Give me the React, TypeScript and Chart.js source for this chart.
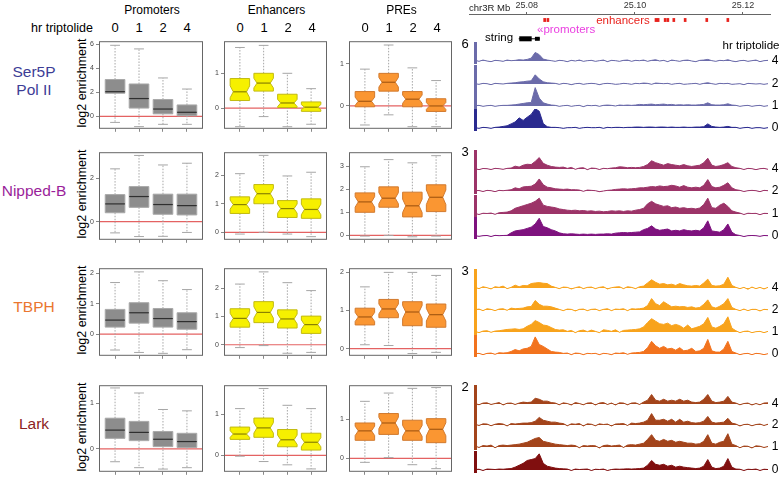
import React, { useEffect, useRef } from 'react';
import { Chart, registerables } from 'chart.js';
Chart.register(...registerables);

const FONT = '"Liberation Sans", Arial, Helvetica, sans-serif';

const TIMEPOINTS = ['0', '1', '2', '4'];
const REGIONS = ['Promoters', 'Enhancers', 'PREs'];
const PROTEINS = ['Ser5P\nPol II', 'Nipped-B', 'TBPH', 'Lark'];
const PROTEIN_COLORS = ['#3d3d96', '#9a1e9a', '#ea7630', '#8c2323'];
const TRACK_ORDER = ['4', '2', '1', '0'];

// box stats per time point: [lower whisker, Q1, median, Q3, upper whisker]
const SER5P_PROMOTERS = [[-0.5, 1.92, 2.05, 3.06, 5.9], [-0.85, 0.69, 1.48, 2.69, 5.6], [-0.66, 0.21, 0.61, 1.4, 3.19], [-0.66, 0.05, 0.34, 0.95, 2.27]];
const SER5P_ENHANCERS = [[-0.53, 0.22, 0.47, 0.85, 1.74], [-0.24, 0.49, 0.72, 1.0, 1.8], [-0.53, 0.02, 0.15, 0.4, 1.0], [-0.46, -0.09, 0.03, 0.18, 0.56]];
const SER5P_PRES = [[-0.45, -0.02, 0.11, 0.34, 0.87], [-0.21, 0.35, 0.56, 0.77, 1.44], [-0.49, -0.02, 0.16, 0.34, 0.9], [-0.49, -0.13, 0.0, 0.17, 0.6]];
const NIPB_PROMOTERS = [[-0.52, 0.41, 0.82, 1.25, 2.44], [-0.69, 0.66, 1.16, 1.62, 3.06], [-0.68, 0.34, 0.79, 1.27, 2.62], [-0.5, 0.31, 0.74, 1.27, 2.7]];
const NIPB_ENHANCERS = [[-0.06, 0.66, 0.97, 1.24, 2.05], [0.0, 1.0, 1.35, 1.67, 2.69], [-0.06, 0.52, 0.83, 1.11, 1.97], [-0.15, 0.49, 0.8, 1.17, 2.1]];
const NIPB_PRES = [[-0.03, 1.0, 1.45, 1.84, 2.97], [0.0, 1.22, 1.61, 2.1, 3.28], [-0.06, 0.8, 1.28, 1.87, 3.14], [-0.03, 1.03, 1.65, 2.19, 3.45]];
const TBPH_PROMOTERS = [[-0.52, 0.23, 0.46, 0.81, 1.69], [-0.6, 0.36, 0.7, 1.03, 2.04], [-0.63, 0.23, 0.51, 0.84, 1.75], [-0.51, 0.16, 0.41, 0.7, 1.46]];
const TBPH_ENHANCERS = [[-0.1, 0.62, 0.93, 1.27, 2.14], [-0.03, 0.78, 1.14, 1.52, 2.57], [-0.3, 0.59, 0.91, 1.23, 2.19], [-0.27, 0.4, 0.71, 1.01, 1.91]];
const TBPH_PRES = [[0.1, 0.62, 0.83, 1.06, 1.62], [0.08, 0.81, 1.04, 1.29, 2.0], [-0.13, 0.6, 0.96, 1.23, 2.0], [-0.1, 0.56, 0.89, 1.17, 1.92]];
const LARK_PROMOTERS = [[-0.28, 0.23, 0.41, 0.67, 1.33], [-0.41, 0.18, 0.36, 0.6, 1.22], [-0.44, 0.05, 0.21, 0.38, 0.86], [-0.41, 0.03, 0.16, 0.34, 0.83]];
const LARK_ENHANCERS = [[-0.02, 0.39, 0.52, 0.69, 1.14], [-0.15, 0.44, 0.67, 0.91, 1.63], [-0.23, 0.21, 0.38, 0.63, 1.22], [-0.33, 0.13, 0.32, 0.54, 1.14]];
const LARK_PRES = [[-0.1, 0.46, 0.7, 0.9, 1.45], [0.02, 0.61, 0.9, 1.14, 1.66], [-0.16, 0.46, 0.7, 0.97, 1.78], [-0.26, 0.4, 0.74, 1.01, 1.8]];

// y tick labels per panel
const SER5P_TICKS = [[0, 2, 4, 6], [0, 1], [0, 1]];
const NIPB_TICKS = [[0, 2], [0, 1, 2], [0, 1, 2, 3]];
const TBPH_TICKS = [[0, 1, 2], [0, 1, 2], [0, 1, 2]];
const LARK_TICKS = [[0, 1], [0, 1], [0, 1]];

// y axis ranges per panel
const SER5P_RANGES = [[-1.03, 6.24], [-0.59, 1.92], [-0.54, 1.53]];
const NIPB_RANGES = [[-0.84, 3.21], [-0.26, 2.8], [-0.19, 3.6]];
const TBPH_RANGES = [[-0.71, 2.16], [-0.39, 2.7], [-0.19, 2.11]];
const LARK_RANGES = [[-0.5, 1.39], [-0.4, 1.71], [-0.34, 1.86]];

// genome browser
const AXIS_TICKS_MB = [25.08, 25.1, 25.12];
const ENHANCER_POSITIONS = [25.0833, 25.0839, 25.1039, 25.1043, 25.1056, 25.1061, 25.1072, 25.1093, 25.1133, 25.1172];
const GENE_SPAN = [25.0785, 25.0824];
const GENE_EXON_A = [25.0786, 25.0809];
const GENE_EXON_B = [25.0815, 25.0824];
const TRACK_SCALE_MAX = [6, 3, 3, 2];

const SER5P_4 = [0.2,-0.1,0.3,0,-0.2,0.2,0.1,-0.1,0.3,0.1, 0.2,0.4,0.3,0.5,0.9,2.7,2.0,0.6,0.3,0.1, -0.1,0.2,0.1,-0.2,0.2,0,0.3,-0.1,0.1,0.2, -0.1,0.1,0.3,-0.2,0.2,0.1,-0.1,0.2,0.3,-0.1, 0.2,0.1,0.3,-0.1,0.2,0.4,0,0.2,-0.2,0.3, 0.1,-0.1,0.2,0.3,0,-0.2,0.2,0.3,0.5,0.1, -0.1,0.2,0.1,0.4,0,-0.2,0.1,0.2,-0.1,0.1, 0.3,-0.2,0.1,0.2];
const SER5P_2 = [0.1,-0.1,0.2,0.1,-0.2,0.2,0.1,0,0.2,0.3, 0.4,0.6,0.7,0.9,1.0,2.9,1.6,0.7,0.4,0.3, 0.2,-0.1,0.2,0.1,-0.2,0.1,0.2,-0.1,0.1,0.2, 0.1,-0.2,0.1,0.2,0.1,-0.1,0,0.2,0.1,-0.1, 0.2,0.1,0.3,0.2,-0.1,0.3,0.2,0.1,0.2,-0.1, 0.1,0.2,-0.1,0,0.1,0.2,-0.1,0.2,0.4,0.1, -0.1,0.2,0.1,0.2,-0.1,0,0.1,-0.2,0.2,0.1, 0,0.1,-0.1,0.1];
const SER5P_1 = [0.1,0.2,-0.1,0.1,0.2,-0.1,0.1,0.2,0.2,0.3, 0.4,0.6,0.8,1.0,1.1,5.8,2.5,1.0,0.6,0.3, 0.2,-0.1,0.1,0.2,-0.1,0.1,0.2,-0.2,0.2,0.1, 0.2,-0.1,0.2,0.3,0.2,0,0.3,0.2,0.3,0.2, 0.3,0.5,0.4,0.5,0.6,0.4,0.5,0.6,0.4,0.5, 0.3,0.4,0.3,0.4,0.3,0.3,0.4,0.5,1.0,0.4, 0.3,0.3,0.4,0.7,0.3,0.2,-0.1,0.1,0.2,-0.1, 0.1,0.2,-0.1,0.1];
const SER5P_0 = [0.1,-0.1,0.2,0.1,-0.1,0.2,0.3,0.5,0.7,1.3, 1.9,3.2,2.4,3.4,4.3,6.1,5.3,1.4,0.4,0.2, 0.2,0.1,-0.1,0.1,0.1,0.2,-0.1,0.1,0.2,0.1, 0.1,0.2,-0.1,0.2,0.1,0.2,0.2,0.1,0.2,0.2, 0.3,0.3,0.2,0.3,0.3,0.2,0.3,0.3,0.2,0.3, 0.2,0.2,0.3,0.2,0.2,0.3,0.3,0.4,1.3,0.5, 0.3,0.2,0.3,0.5,0.2,0.2,-0.1,0.1,0.2,-0.1, 0.1,0.1,-0.1,0.1];

const NIPB_4 = [0.05,-0.1,0.08,0.05,-0.08,0.1,0.05,-0.05,0.1,0.15, 0.45,0.3,0.6,0.75,0.7,1.2,1.8,0.9,0.6,0.4, 0.3,0.25,0.3,0.1,0.25,-0.05,0.15,0.2,-0.1,0.15, 0.1,-0.08,0.1,0.05,0.15,0.2,0.35,0.3,0.2,0.25, 0.2,0.25,0.4,0.7,1.3,1.0,0.8,0.6,0.85,0.7, 0.6,0.5,0.7,0.5,0.4,0.5,0.6,1.0,1.7,0.6, 0.4,0.5,0.7,1.0,0.4,0.2,0.1,-0.08,0.1,0.05, -0.1,0.05,0.1,-0.05];
const NIPB_2 = [0.05,0.08,-0.08,0.1,0.05,-0.1,0.1,0.05,0.12,0.2, 0.5,0.35,0.65,0.7,0.75,1.1,1.9,1.0,0.6,0.5, 0.35,0.3,0.25,0.3,0.2,0.2,0.15,-0.05,0.15,0.1, 0.05,-0.1,0,0.1,0.15,0.25,0.3,0.35,0.3,0.35, 0.4,0.5,0.5,0.6,0.7,0.65,0.8,0.7,0.75,0.9, 0.8,0.6,0.85,0.6,0.5,0.6,0.5,0.9,1.8,0.7, 0.5,0.6,0.9,1.3,0.5,0.2,0.1,-0.08,0.05,0.1, 0.05,-0.1,0.1,0.05];
const NIPB_1 = [0.1,-0.08,0.12,0.08,0.15,-0.05,0.2,0.25,0.3,0.5, 0.9,1.1,1.3,1.5,1.7,2.0,2.5,1.4,1.2,1.1, 1.0,0.8,0.7,0.6,0.55,0.6,0.5,0.55,0.45,0.5, 0.4,0.45,0.35,0.4,0.5,0.45,0.5,0.4,0.5,0.45, 0.6,0.7,0.9,1.6,2.0,1.6,1.4,1.2,1.3,1.0, 1.1,0.9,1.0,0.85,0.9,0.8,0.95,1.5,2.5,1.0, 0.9,1.4,1.7,1.2,0.5,0.3,0.15,-0.08,0.12,0.08, 0.1,-0.1,0.1,0.08];
const NIPB_0 = [0.05,-0.05,0.05,0.08,-0.08,0.1,0.05,0.08,0.1,0.5, 0.8,0.9,1.0,1.2,1.4,1.9,2.8,1.5,1.3,1.0, 0.8,0.5,0.35,0.3,0.35,0.3,0.25,0.3,0.25,0.3, 0.25,0.3,0.3,0.35,0.3,0.45,0.5,0.55,0.5,0.55, 0.6,0.65,1.0,1.2,1.6,1.1,0.9,1.0,1.1,0.8, 0.9,0.8,1.0,0.85,0.8,0.9,0.8,1.3,2.4,0.8, 0.7,0.6,1.0,1.9,0.6,0.2,0.08,-0.08,0.05,0.08, 0.05,-0.05,0.08,0.05];

const TBPH_4 = [0.1,-0.1,0.2,0.05,-0.15,0.2,0.1,0.3,-0.1,0.1, 0.45,0.2,0.4,0.35,0.7,0.8,0.85,0.75,0.7,0.3, 0.1,-0.1,0.15,0.1,-0.15,0.05,0.2,-0.1,0.1,0.15, -0.1,0.1,0.2,-0.15,0.05,0.15,0.2,-0.1,0.2,0.1, -0.1,0.2,0.3,0.8,1.3,0.9,0.6,0.7,0.5,0.6, 0.4,0.7,0.5,0.35,0.3,0.4,0.3,0.8,1.4,0.4, 0.3,0.35,0.6,1.7,0.4,0.1,-0.1,0.1,-0.2,0.15, -0.1,0.1,-0.15,0.1];
const TBPH_2 = [0.05,0.15,-0.1,0.2,0.1,-0.1,0.15,0.2,-0.05,0.3, 0.2,0.25,0.3,0.5,0.55,1.5,0.9,0.6,0.6,0.5, 0.3,0.1,-0.1,0.15,0.1,-0.15,0.1,0.15,-0.1,0.1, 0.15,-0.1,0.1,0.2,-0.1,0.15,0.1,0.2,-0.1,0.2, 0.15,0.2,0.3,0.7,1.8,1.0,0.7,1.3,0.9,0.5, 0.6,0.5,0.55,0.4,0.5,0.3,0.4,0.9,1.6,0.5, 0.3,0.6,1.0,1.8,0.4,0.1,-0.1,0.15,-0.1,0.1, 0.1,-0.15,0.1,0.05];
const TBPH_1 = [0.1,-0.1,0.15,0.2,-0.05,0.15,0.2,0.3,0.4,0.45, 0.5,0.4,0.5,0.9,1.2,1.8,1.5,1.1,1.0,0.7, 0.4,0.3,0.35,0.1,0.25,-0.1,0.2,0.3,0.05,0.3, 0.1,-0.1,0.35,0.25,0.1,0.35,-0.05,0.25,0.3,0.35, 0.4,0.5,0.8,1.5,2.1,1.7,1.3,1.2,1.4,1.0, 1.2,1.0,0.6,1.1,0.5,0.7,0.9,1.3,2.3,0.8, 0.6,0.9,1.3,2.4,0.6,0.2,-0.1,0.1,0.15,-0.1, 0.05,0.1,-0.1,0.1];
const TBPH_0 = [0.05,0.1,-0.1,0.1,0.15,-0.05,0.2,0.15,0.2,0.4, 0.7,0.5,0.8,0.9,1.2,2.7,1.5,1.2,0.8,0.4, 0.3,0.25,0.1,0.15,-0.1,0.15,0.1,-0.1,0.1,0.05, 0.1,-0.1,0.1,0.05,-0.1,0.15,0.1,0.2,-0.05,0.15, 0.2,0.25,0.4,1.0,2.0,1.3,0.9,1.2,0.8,0.9, 0.6,1.0,0.5,0.6,0.9,0.4,0.5,0.9,2.3,0.5, 0.3,0.3,0.8,2.0,0.4,0.15,-0.1,0.05,0.1,-0.1, 0.1,0.05,-0.1,0.05];

const LARK_4 = [0.05,-0.08,0.1,0.12,-0.05,0.05,0.15,-0.1,0.08,0.1, -0.05,0.1,0.2,0.15,0.2,0.6,0.5,0.3,0.3,0.15, 0.1,-0.08,0.12,0.05,-0.1,0.15,0.05,-0.08,0.1,0.12, -0.1,0.1,0.15,-0.05,0.1,-0.1,0.12,0.1,-0.08,0.1, 0.12,-0.05,0.2,0.4,1.0,0.4,0.3,0.5,0.3,0.4, 0.3,0.5,0.3,0.4,0.2,0.15,0.2,0.5,1.0,0.3, 0.15,0.2,0.3,0.8,0.2,0.1,-0.08,0.05,0.1,-0.1, 0.05,-0.08,0.1,0.12];
const LARK_2 = [0.08,-0.05,0.12,0.1,-0.08,0.08,0.15,0.1,-0.1,0.15, 0.1,0.15,0.2,0.2,0.25,0.4,0.8,0.5,0.4,0.3, 0.3,0.2,0.15,-0.08,0.12,0.08,0.15,-0.1,0.12,0.08, -0.08,0.12,0.05,0.1,-0.1,0.1,0.12,0.15,-0.05,0.2, 0.15,0.2,0.3,0.5,1.2,0.5,0.5,0.6,0.4,0.6, 0.3,0.6,0.3,0.4,0.25,0.2,0.25,0.4,0.9,0.3, 0.2,0.25,0.3,0.7,0.2,0.1,-0.1,0.05,0.08,-0.08, 0.05,0.1,-0.05,0.08];
const LARK_1 = [0.1,-0.05,0.15,0.1,0.2,-0.08,0.15,0.2,0.15,0.2, 0.25,0.3,0.4,0.5,0.7,0.9,1.0,0.6,0.5,0.4, 0.3,0.25,0.2,0.15,0.2,0.15,-0.08,0.15,0.1,0.15, 0.12,-0.1,0.15,0.2,0.1,0.15,0.2,-0.05,0.2,0.25, 0.2,0.3,0.4,0.8,1.3,0.7,0.6,0.8,0.6,0.7, 0.5,0.6,0.5,0.4,0.4,0.3,0.35,0.6,1.3,0.4, 0.3,0.5,0.6,1.4,0.3,0.15,-0.08,0.1,0.08,-0.1, 0.12,0.08,-0.05,0.05];
const LARK_0 = [0.05,0.08,-0.05,0.1,0.08,0.05,0.1,0.08,0.12,0.15, 0.3,0.5,0.7,1.0,1.1,1.2,1.7,0.7,0.4,0.3, 0.2,0.15,0.12,0.1,-0.05,0.1,0.05,0.08,0.1,-0.05, 0.08,0.05,0.1,-0.05,0.05,0.1,0.08,0.1,0.12,0.1, 0.12,0.15,0.2,0.5,1.0,0.6,0.5,0.6,0.4,0.5, 0.3,0.4,0.3,0.25,0.2,0.15,0.2,0.4,1.1,0.3, 0.15,0.2,0.4,1.2,0.3,0.1,0.08,-0.05,0.08,0.05, 0.1,-0.05,0.08,0.05];

// ---- tables built from the arrays above ----
const BOX_TABLE = [
  [SER5P_PROMOTERS, SER5P_ENHANCERS, SER5P_PRES],
  [NIPB_PROMOTERS, NIPB_ENHANCERS, NIPB_PRES],
  [TBPH_PROMOTERS, TBPH_ENHANCERS, TBPH_PRES],
  [LARK_PROMOTERS, LARK_ENHANCERS, LARK_PRES],
];
const TICK_TABLE = [SER5P_TICKS, NIPB_TICKS, TBPH_TICKS, LARK_TICKS];
const RANGE_TABLE = [SER5P_RANGES, NIPB_RANGES, TBPH_RANGES, LARK_RANGES];
const TRACK_TABLE = [
  [SER5P_4, SER5P_2, SER5P_1, SER5P_0],
  [NIPB_4, NIPB_2, NIPB_1, NIPB_0],
  [TBPH_4, TBPH_2, TBPH_1, TBPH_0],
  [LARK_4, LARK_2, LARK_1, LARK_0],
];

// ---- layout / style ----
const COLS = [[99, 104], [224, 103], [349, 103]];
const ROWS = [[37, 92], [148, 92], [264, 92], [381, 91]];
const PAL = [
  { fill: '#8d8d8d', stroke: '#a9a9a9', median: '#2f2f2f', notch: false },
  { fill: '#f6f000', stroke: '#c2ba10', median: '#8a8200', notch: true },
  { fill: '#fa9632', stroke: '#d27a2e', median: '#a85a12', notch: true },
];
const TRACK_BASELINES = [[61, 83.5, 105.5, 128], [168.5, 191, 213.5, 236], [288, 310, 331.5, 353.5], [403.5, 425, 447, 469.5]];
const TRACK_COLORS = [['#6b6baa', '#2a2a8f'], ['#9c3468', '#7e127e'], ['#f8a31c', '#f2731e'], ['#a3441b', '#800f0f']];
const TRACK_START = 25.0704;
const TRACK_END = 25.1246;
const HEADER_MIN = 25.0693;
const HEADER_MAX = 25.125;

const boxPlugin = {
  id: 'boxes',
  beforeDatasetsDraw(chart: any) {
    const { ctx, chartArea: a, scales } = chart;
    const y0 = scales.y.getPixelForValue(0);
    ctx.save();
    ctx.strokeStyle = '#e46262';
    ctx.lineWidth = 1.2;
    ctx.beginPath();
    ctx.moveTo(a.left, y0);
    ctx.lineTo(a.right, y0);
    ctx.stroke();
    ctx.restore();
  },
  afterDatasetsDraw(chart: any, _a: any, opts: any) {
    const { ctx, chartArea: a, scales } = chart;
    const x = scales.x;
    const y = scales.y;
    const pts = chart.data.datasets[0].data;
    ctx.save();
    pts.forEach((p: any) => {
      const [lo, q1, med, q3, hi] = p.stats;
      const cx = x.getPixelForValue(p.x);
      const hw = (x.getPixelForValue(p.x + 0.41) - x.getPixelForValue(p.x - 0.41)) / 2;
      const yLo = y.getPixelForValue(lo);
      const yQ1 = y.getPixelForValue(q1);
      const yMed = y.getPixelForValue(med);
      const yQ3 = y.getPixelForValue(q3);
      const yHi = y.getPixelForValue(hi);
      ctx.strokeStyle = '#a6a6a6';
      ctx.lineWidth = 1;
      ctx.setLineDash([1.5, 1.5]);
      ctx.beginPath();
      ctx.moveTo(cx, yQ3); ctx.lineTo(cx, yHi);
      ctx.moveTo(cx, yQ1); ctx.lineTo(cx, yLo);
      ctx.stroke();
      ctx.setLineDash([]);
      const cw = hw * 0.5;
      ctx.beginPath();
      ctx.moveTo(cx - cw, yHi); ctx.lineTo(cx + cw, yHi);
      ctx.moveTo(cx - cw, yLo); ctx.lineTo(cx + cw, yLo);
      ctx.stroke();
      const ins = opts.notch ? hw * 0.32 : 0;
      ctx.beginPath();
      if (opts.notch) {
        const n = (yQ1 - yQ3) * 0.27;
        const nt = Math.max(yQ3, yMed - n);
        const nb = Math.min(yQ1, yMed + n);
        ctx.moveTo(cx - hw, yQ3); ctx.lineTo(cx + hw, yQ3); ctx.lineTo(cx + hw, nt);
        ctx.lineTo(cx + hw - ins, yMed); ctx.lineTo(cx + hw, nb); ctx.lineTo(cx + hw, yQ1);
        ctx.lineTo(cx - hw, yQ1); ctx.lineTo(cx - hw, nb); ctx.lineTo(cx - hw + ins, yMed);
        ctx.lineTo(cx - hw, nt); ctx.closePath();
      } else {
        ctx.rect(cx - hw, yQ3, 2 * hw, yQ1 - yQ3);
      }
      ctx.fillStyle = opts.fill;
      ctx.fill();
      ctx.strokeStyle = opts.stroke;
      ctx.stroke();
      ctx.strokeStyle = opts.median;
      ctx.lineWidth = 1.2;
      ctx.beginPath();
      ctx.moveTo(cx - hw + ins, yMed);
      ctx.lineTo(cx + hw - ins, yMed);
      ctx.stroke();
    });
    ctx.strokeStyle = '#666';
    ctx.lineWidth = 1;
    ctx.strokeRect(a.left + 0.5, a.top + 0.5, a.right - a.left - 1, a.bottom - a.top - 1);
    ctx.restore();
  },
};

const PADL = 22, PADT = 2, PADR = 2, PADB = 6;

function BoxPanel(props: { left: number; top: number; width: number; height: number; boxes: number[][]; ticks: number[]; range: number[]; pal: any }) {
  const ref = useRef<HTMLCanvasElement>(null);
  const { left, top, width, height, boxes, ticks, range, pal } = props;
  useEffect(() => {
    const chart = new Chart(ref.current as HTMLCanvasElement, {
      type: 'scatter',
      data: { datasets: [{ data: boxes.map((b, i) => ({ x: i, y: b[2], stats: b })) as any, pointRadius: 0 }] },
      options: {
        animation: false,
        responsive: false,
        events: [],
        layout: { padding: { left: 0, top: PADT, right: PADR, bottom: 0 } },
        plugins: { legend: { display: false }, tooltip: { enabled: false }, boxes: pal } as any,
        scales: {
          x: {
            type: 'linear', min: -0.67, max: 3.67,
            afterBuildTicks: (s: any) => { s.ticks = TIMEPOINTS.map((_, i) => ({ value: i })); },
            ticks: { display: false },
            grid: { display: true, drawOnChartArea: false, drawTicks: true, tickLength: 3, color: '#888' },
            border: { display: false },
            afterFit: (s: any) => { s.height = PADB; },
          },
          y: {
            type: 'linear', min: range[0], max: range[1],
            afterBuildTicks: (s: any) => { s.ticks = ticks.map((v) => ({ value: v })); },
            ticks: { font: { size: 7, family: FONT }, color: '#444', padding: 2 },
            grid: { display: true, drawOnChartArea: false, drawTicks: true, tickLength: 3, color: '#888' },
            border: { display: false },
            afterFit: (s: any) => { s.width = PADL; },
          },
        },
      } as any,
      plugins: [boxPlugin as any],
    });
    return () => chart.destroy();
  }, []);
  return (
    <canvas
      ref={ref}
      width={width + PADL + PADR}
      height={height + PADT + PADB}
      style={{ position: 'absolute', left: left - PADL, top: top - PADT }}
    />
  );
}

function Track(props: { top: number; values: number[]; color: string; yMax: number }) {
  const ref = useRef<HTMLCanvasElement>(null);
  const { top, values, color, yMax } = props;
  useEffect(() => {
    const chart = new Chart(ref.current as HTMLCanvasElement, {
      type: 'line',
      data: {
        datasets: [{
          data: values.map((v, i) => ({ x: TRACK_START + ((TRACK_END - TRACK_START) * i) / (values.length - 1), y: v })),
          borderColor: color, backgroundColor: color, borderWidth: 1, pointRadius: 0, fill: 'origin', tension: 0,
        }],
      },
      options: {
        animation: false,
        responsive: false,
        events: [],
        layout: { padding: { left: 35, right: 13, top: 0, bottom: 0 } },
        plugins: { legend: { display: false }, tooltip: { enabled: false } },
        scales: {
          x: { type: 'linear', display: false, min: TRACK_START, max: TRACK_END },
          y: {
            type: 'linear', min: (-yMax * 3) / 19, max: yMax,
            ticks: { display: false }, grid: { display: false },
            border: { display: true, color, width: 3 },
            afterFit: (s: any) => { s.width = 0; },
          },
        },
      } as any,
    });
    return () => chart.destroy();
  }, []);
  return <canvas ref={ref} width={341} height={22} style={{ position: 'absolute', left: 440, top: Math.round(top) }} />;
}

function Header() {
  const ref = useRef<HTMLCanvasElement>(null);
  useEffect(() => {
    const chart = new Chart(ref.current as HTMLCanvasElement, {
      type: 'bar',
      data: {
        datasets: [
          { type: 'bar', data: ENHANCER_POSITIONS.map((p) => ({ x: p, y: [3.05, 3.45] })) as any, backgroundColor: '#e8231e', barThickness: 2 },
          { type: 'line', data: GENE_SPAN.map((p) => ({ x: p, y: 0.9 })), borderColor: '#000', borderWidth: 1, pointRadius: 0 },
          { type: 'line', data: GENE_EXON_A.map((p) => ({ x: p, y: 0.9 })), borderColor: '#000', borderWidth: 5, pointRadius: 0 },
          { type: 'line', data: GENE_EXON_B.map((p) => ({ x: p, y: 0.9 })), borderColor: '#000', borderWidth: 4, pointRadius: 0 },
        ] as any,
      },
      options: {
        animation: false,
        responsive: false,
        events: [],
        layout: { padding: { left: 29, right: 11, top: 0, bottom: 0 } },
        plugins: { legend: { display: false }, tooltip: { enabled: false } },
        scales: {
          x: {
            type: 'linear', position: 'top', min: HEADER_MIN, max: HEADER_MAX, offset: false,
            afterBuildTicks: (s: any) => { s.ticks = AXIS_TICKS_MB.map((v) => ({ value: v })); },
            ticks: { font: { size: 9, family: FONT }, color: '#333', padding: 1, maxRotation: 0, callback: (v: any) => Number(v).toFixed(2) },
            grid: { display: true, drawOnChartArea: false, drawTicks: true, tickLength: 2, color: '#666', offset: false },
            border: { display: true, color: '#666', width: 1 },
            afterFit: (s: any) => { s.height = 14; },
          },
          y: { type: 'linear', display: false, min: 0, max: 4 },
        },
      } as any,
    });
    return () => chart.destroy();
  }, []);
  return <canvas ref={ref} width={341} height={46} style={{ position: 'absolute', left: 440, top: 0 }} />;
}

function Txt(props: { x: number; y: number; size: number; color?: string; children: any; align?: 'center' | 'left'; rotate?: boolean }) {
  const { x, y, size, color = '#000', children, align = 'center', rotate } = props;
  const tx = align === 'center' ? '-50%' : '0';
  return (
    <div
      style={{
        position: 'absolute', left: x, top: y, fontSize: size, color, lineHeight: 1.15,
        whiteSpace: 'pre', textAlign: 'center', fontFamily: FONT,
        transform: `translate(${tx}, -50%)${rotate ? ' rotate(-90deg)' : ''}`,
      }}
    >
      {children}
    </div>
  );
}

export default function App() {
  const items: any[] = [];
  REGIONS.forEach((r, c) => {
    items.push(<Txt key={'reg' + c} x={COLS[c][0] + COLS[c][1] / 2 + 1} y={11} size={12}>{r}</Txt>);
    TIMEPOINTS.forEach((t, i) => {
      items.push(<Txt key={'tp' + c + i} x={COLS[c][0] + 16 + 24 * i} y={28} size={13}>{t}</Txt>);
    });
  });
  items.push(<Txt key="hrt" x={62} y={28} size={12.5}>hr triptolide</Txt>);
  PROTEINS.forEach((p, r) => {
    const cy = ROWS[r][0] + ROWS[r][1] / 2;
    items.push(<Txt key={'prot' + r} x={34} y={r === 0 ? 81 : cy - 3} size={15.5} color={PROTEIN_COLORS[r]}>{p}</Txt>);
    items.push(<Txt key={'yl' + r} x={82} y={cy} size={12.5} rotate>log2 enrichment</Txt>);
    REGIONS.forEach((_, c) => {
      items.push(
        <BoxPanel
          key={'bp' + r + c}
          left={COLS[c][0]}
          top={ROWS[r][0]}
          width={COLS[c][1]}
          height={ROWS[r][1]}
          boxes={BOX_TABLE[r][c]}
          ticks={TICK_TABLE[r][c]}
          range={RANGE_TABLE[r][c]}
          pal={PAL[c]}
        />
      );
    });
    TRACK_ORDER.forEach((t, k) => {
      const base = TRACK_BASELINES[r][k];
      items.push(
        <Track key={'tr' + r + k} top={base - 19} values={TRACK_TABLE[r][k]} color={k === 3 ? TRACK_COLORS[r][1] : TRACK_COLORS[r][0]} yMax={TRACK_SCALE_MAX[r]} />
      );
      items.push(<Txt key={'tl' + r + k} x={775} y={base} size={12}>{t}</Txt>);
    });
    items.push(<Txt key={'tm' + r} x={465} y={TRACK_BASELINES[r][0] - 17} size={13}>{String(TRACK_SCALE_MAX[r])}</Txt>);
  });
  return (
    <div style={{ position: 'absolute', left: 0, top: 0, width: 781, height: 477, background: '#fff', overflow: 'hidden', fontFamily: FONT }}>
      <Header />
      <Txt x={469} y={8} size={9.5} align="left" color="#222">chr3R Mb</Txt>
      <Txt x={623} y={21} size={11.5} color="#e8231e">enhancers</Txt>
      <Txt x={537} y={30} size={11.5} align="left" color="#ea3fe0">«promoters</Txt>
      <Txt x={499} y={38} size={11.5}>string</Txt>
      <Txt x={751} y={46} size={11.5}>hr triptolide</Txt>
      {items}
    </div>
  );
}
